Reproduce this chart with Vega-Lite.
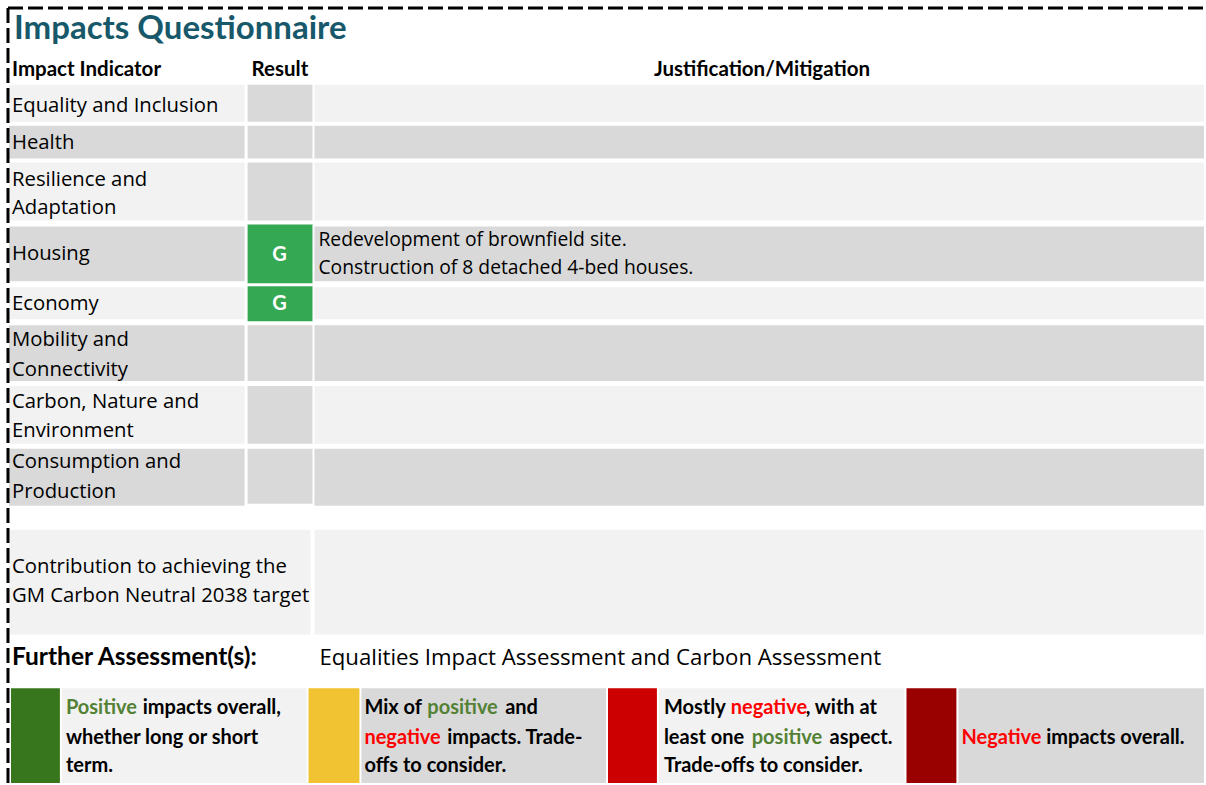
{
  "$schema": "https://vega.github.io/schema/vega-lite/v6.json",
  "width": 1206,
  "height": 785,
  "padding": 0,
  "autosize": {"type": "fit", "contains": "padding"},
  "background": "white",
  "config": {"font": "Lato", "view": {"stroke": null}},
  "datasets": {
    "cells": [
      {"x": 9, "x2": 245, "y": 85, "y2": 122, "shade": "light"},
      {"x": 248, "x2": 313, "y": 85, "y2": 122, "shade": "mid"},
      {"x": 315, "x2": 1206, "y": 85, "y2": 122, "shade": "light"},
      {"x": 9, "x2": 245, "y": 126, "y2": 159, "shade": "mid"},
      {"x": 248, "x2": 313, "y": 126, "y2": 159, "shade": "mid"},
      {"x": 315, "x2": 1206, "y": 126, "y2": 159, "shade": "mid"},
      {"x": 9, "x2": 245, "y": 163, "y2": 221, "shade": "light"},
      {"x": 248, "x2": 313, "y": 163, "y2": 221, "shade": "mid"},
      {"x": 315, "x2": 1206, "y": 163, "y2": 221, "shade": "light"},
      {"x": 9, "x2": 245, "y": 227, "y2": 282, "shade": "mid"},
      {"x": 248, "x2": 313, "y": 225, "y2": 284, "shade": "G"},
      {"x": 315, "x2": 1206, "y": 227, "y2": 282, "shade": "mid"},
      {"x": 9, "x2": 245, "y": 288, "y2": 320, "shade": "light"},
      {"x": 248, "x2": 313, "y": 287, "y2": 322, "shade": "G"},
      {"x": 315, "x2": 1206, "y": 288, "y2": 320, "shade": "light"},
      {"x": 9, "x2": 245, "y": 326, "y2": 382, "shade": "mid"},
      {"x": 248, "x2": 313, "y": 326, "y2": 382, "shade": "mid"},
      {"x": 315, "x2": 1206, "y": 326, "y2": 382, "shade": "mid"},
      {"x": 9, "x2": 245, "y": 387, "y2": 445, "shade": "light"},
      {"x": 248, "x2": 313, "y": 387, "y2": 445, "shade": "mid"},
      {"x": 315, "x2": 1206, "y": 387, "y2": 445, "shade": "light"},
      {"x": 9, "x2": 245, "y": 450, "y2": 507, "shade": "mid"},
      {"x": 248, "x2": 313, "y": 450, "y2": 505, "shade": "mid"},
      {"x": 315, "x2": 1206, "y": 450, "y2": 507, "shade": "mid"},
      {"x": 9, "x2": 311, "y": 531, "y2": 636, "shade": "light"},
      {"x": 315, "x2": 1206, "y": 531, "y2": 636, "shade": "light"},
      {"x": 11, "x2": 60, "y": 690, "y2": 785, "shade": "positive"},
      {"x": 62, "x2": 307, "y": 690, "y2": 785, "shade": "light"},
      {"x": 309, "x2": 360, "y": 690, "y2": 785, "shade": "mixed"},
      {"x": 362, "x2": 607, "y": 690, "y2": 785, "shade": "mid"},
      {"x": 609, "x2": 658, "y": 690, "y2": 785, "shade": "mostlyneg"},
      {"x": 660, "x2": 906, "y": 690, "y2": 785, "shade": "light"},
      {"x": 908, "x2": 958, "y": 690, "y2": 785, "shade": "negative"},
      {"x": 960, "x2": 1206, "y": 690, "y2": 785, "shade": "mid"}
    ],
    "borders": [
      {"x": 8, "y": 8, "x2": 1206, "y2": 8},
      {"x": 8, "y": 8, "x2": 8, "y2": 785}
    ],
    "texts": [
      {"kind": "title", "x": 14, "y": 29, "text": "Impacts Questionnaire"},
      {"kind": "header", "x": 12, "y": 70, "text": "Impact Indicator"},
      {"kind": "header", "x": 252, "y": 70, "text": "Result"},
      {"kind": "header", "x": 655, "y": 70, "text": "Justification/Mitigation"},
      {"kind": "label", "x": 12, "y": 106, "text": "Equality and Inclusion"},
      {"kind": "label", "x": 12, "y": 143, "text": "Health"},
      {"kind": "label", "x": 12, "y": 180, "text": "Resilience and"},
      {"kind": "label", "x": 12, "y": 209, "text": "Adaptation"},
      {"kind": "label", "x": 12, "y": 255, "text": "Housing"},
      {"kind": "label", "x": 12, "y": 305, "text": "Economy"},
      {"kind": "label", "x": 12, "y": 341, "text": "Mobility and"},
      {"kind": "label", "x": 12, "y": 371, "text": "Connectivity"},
      {"kind": "label", "x": 12, "y": 403, "text": "Carbon, Nature and"},
      {"kind": "label", "x": 12, "y": 432, "text": "Environment"},
      {"kind": "label", "x": 12, "y": 463, "text": "Consumption and"},
      {"kind": "label", "x": 12, "y": 493, "text": "Production"},
      {"kind": "label", "x": 12, "y": 568, "text": "Contribution to achieving the"},
      {"kind": "label", "x": 12, "y": 598, "text": "GM Carbon Neutral 2038 target"},
      {"kind": "body", "x": 319, "y": 241, "text": "Redevelopment of brownfield site."},
      {"kind": "body", "x": 319, "y": 269, "text": "Construction of 8 detached 4-bed houses."},
      {"kind": "result", "x": 280, "y": 256, "text": "G"},
      {"kind": "result", "x": 280, "y": 305, "text": "G"},
      {"kind": "further", "x": 12, "y": 660, "text": "Further Assessment(s):"},
      {"kind": "furthervalue", "x": 320, "y": 660, "text": "Equalities Impact Assessment and Carbon Assessment"},
      {"kind": "key", "x": 66, "y": 710, "text": "Positive", "tone": "pos"},
      {"kind": "key", "x": 143, "y": 710, "text": "impacts overall,", "tone": "plain"},
      {"kind": "key", "x": 66, "y": 740, "text": "whether long or short", "tone": "plain"},
      {"kind": "key", "x": 66, "y": 768, "text": "term.", "tone": "plain"},
      {"kind": "key", "x": 365, "y": 710, "text": "Mix of", "tone": "plain"},
      {"kind": "key", "x": 428, "y": 710, "text": "positive", "tone": "pos"},
      {"kind": "key", "x": 506, "y": 710, "text": "and", "tone": "plain"},
      {"kind": "key", "x": 365, "y": 740, "text": "negative", "tone": "neg"},
      {"kind": "key", "x": 448, "y": 740, "text": "impacts. Trade-", "tone": "plain"},
      {"kind": "key", "x": 365, "y": 768, "text": "offs to consider.", "tone": "plain"},
      {"kind": "key", "x": 665, "y": 710, "text": "Mostly", "tone": "plain"},
      {"kind": "key", "x": 732, "y": 710, "text": "negative", "tone": "neg"},
      {"kind": "key", "x": 807, "y": 710, "text": ", with at", "tone": "plain"},
      {"kind": "key", "x": 665, "y": 740, "text": "least one", "tone": "plain"},
      {"kind": "key", "x": 753, "y": 740, "text": "positive", "tone": "pos"},
      {"kind": "key", "x": 831, "y": 740, "text": "aspect.", "tone": "plain"},
      {"kind": "key", "x": 665, "y": 768, "text": "Trade-offs to consider.", "tone": "plain"},
      {"kind": "key", "x": 963, "y": 740, "text": "Negative", "tone": "neg"},
      {"kind": "key", "x": 1048, "y": 740, "text": "impacts overall.", "tone": "plain"}
    ]
  },
  "encoding": {
    "x": {"field": "x", "type": "quantitative", "axis": null, "scale": {"domain": [0, 1206], "nice": false, "zero": false}},
    "y": {"field": "y", "type": "quantitative", "axis": null, "scale": {"domain": [0, 785], "nice": false, "zero": false, "reverse": true}}
  },
  "layer": [
    {
      "data": {"name": "cells"},
      "mark": {"type": "rect"},
      "encoding": {
        "x2": {"field": "x2"},
        "y2": {"field": "y2"},
        "color": {
          "field": "shade", "type": "nominal", "legend": null,
          "scale": {
            "domain": ["light", "mid", "G", "positive", "mixed", "mostlyneg", "negative"],
            "range": ["#f2f2f2", "#d9d9d9", "#34a853", "#38761d", "#f1c232", "#cc0000", "#990000"]
          }
        }
      }
    },
    {
      "data": {"name": "borders"},
      "mark": {"type": "rule", "color": "#000000", "strokeWidth": 3, "strokeDash": [15, 5]},
      "encoding": {"x2": {"field": "x2"}, "y2": {"field": "y2"}}
    },
    {
      "data": {"name": "texts"},
      "transform": [{"filter": "datum.kind === 'title'"}],
      "mark": {"type": "text", "align": "left", "baseline": "middle", "fontSize": 33, "fontWeight": "bold", "color": "#17596a"},
      "encoding": {"text": {"field": "text"}}
    },
    {
      "data": {"name": "texts"},
      "transform": [{"filter": "datum.kind === 'header'"}],
      "mark": {"type": "text", "align": "left", "baseline": "middle", "fontSize": 20.5, "fontWeight": "bold", "color": "#000000"},
      "encoding": {"text": {"field": "text"}}
    },
    {
      "data": {"name": "texts"},
      "transform": [{"filter": "datum.kind === 'label'"}],
      "mark": {"type": "text", "font": "Open Sans", "align": "left", "baseline": "middle", "fontSize": 20.3, "color": "#000000"},
      "encoding": {"text": {"field": "text"}}
    },
    {
      "data": {"name": "texts"},
      "transform": [{"filter": "datum.kind === 'body'"}],
      "mark": {"type": "text", "font": "Open Sans", "align": "left", "baseline": "middle", "fontSize": 19.3, "color": "#000000"},
      "encoding": {"text": {"field": "text"}}
    },
    {
      "data": {"name": "texts"},
      "transform": [{"filter": "datum.kind === 'result'"}],
      "mark": {"type": "text", "align": "center", "baseline": "middle", "fontSize": 20, "fontWeight": "bold", "color": "#ffffff"},
      "encoding": {"text": {"field": "text"}}
    },
    {
      "data": {"name": "texts"},
      "transform": [{"filter": "datum.kind === 'further'"}],
      "mark": {"type": "text", "align": "left", "baseline": "middle", "fontSize": 24.5, "fontWeight": "bold", "color": "#000000"},
      "encoding": {"text": {"field": "text"}}
    },
    {
      "data": {"name": "texts"},
      "transform": [{"filter": "datum.kind === 'furthervalue'"}],
      "mark": {"type": "text", "font": "Open Sans", "align": "left", "baseline": "middle", "fontSize": 22.2, "color": "#000000"},
      "encoding": {"text": {"field": "text"}}
    },
    {
      "data": {"name": "texts"},
      "transform": [{"filter": "datum.kind === 'key' && datum.tone === 'plain'"}],
      "mark": {"type": "text", "align": "left", "baseline": "middle", "fontSize": 20, "fontWeight": "bold", "color": "#000000"},
      "encoding": {"text": {"field": "text"}}
    },
    {
      "data": {"name": "texts"},
      "transform": [{"filter": "datum.kind === 'key' && datum.tone === 'pos'"}],
      "mark": {"type": "text", "align": "left", "baseline": "middle", "fontSize": 20, "fontWeight": "bold", "color": "#538135"},
      "encoding": {"text": {"field": "text"}}
    },
    {
      "data": {"name": "texts"},
      "transform": [{"filter": "datum.kind === 'key' && datum.tone === 'neg'"}],
      "mark": {"type": "text", "align": "left", "baseline": "middle", "fontSize": 20, "fontWeight": "bold", "color": "#ff0000"},
      "encoding": {"text": {"field": "text"}}
    }
  ]
}
